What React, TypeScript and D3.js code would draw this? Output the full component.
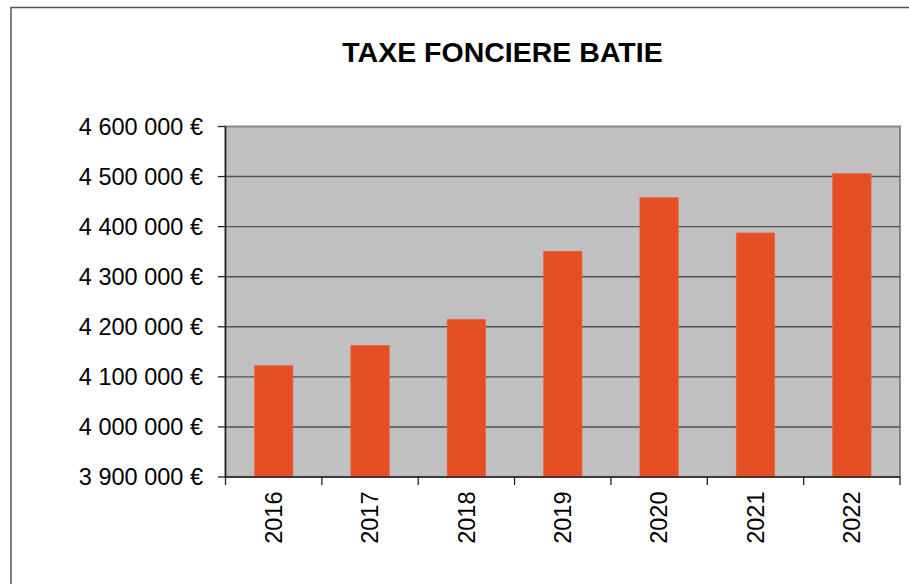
import * as d3 from "d3";

const years = ["2016", "2017", "2018", "2019", "2020", "2021", "2022"];
const amounts = [4122500, 4163000, 4215000, 4351000, 4458000, 4387500, 4506000];
const yTicks = [3900000, 4000000, 4100000, 4200000, 4300000, 4400000, 4500000, 4600000];

const width = 909;
const height = 584;
const plot = { left: 225.5, top: 126.5, right: 900, bottom: 477 };

const fmt = (v: number) =>
  String(v).replace(/\B(?=(\d{3})+(?!\d))/g, " ") + " €";

export default function App() {
  const x = d3
    .scaleBand()
    .domain(years)
    .range([plot.left, plot.right])
    .paddingInner(0.6)
    .paddingOuter(0.3);

  const y = d3
    .scaleLinear()
    .domain([3900000, 4600000])
    .range([plot.bottom, plot.top]);

  // category ticks sit on the band boundaries
  const step = (plot.right - plot.left) / years.length;
  const catTicks = d3.range(years.length + 1).map((i) => plot.left + i * step);

  return (
    <svg
      width={width}
      height={height}
      style={{ position: "absolute", left: 0, top: 0, display: "block" }}
      fontFamily="'Liberation Sans', Arial, sans-serif"
    >
      <rect width={width} height={height} fill="#fff" />
      {/* chart frame, runs off the page right and bottom */}
      <rect x={11} y={7.5} width={width + 20} height={height + 20} fill="none" stroke="#555" strokeWidth={1.5} />

      <text x={502.5} y={61.5} textAnchor="middle" fontSize={28.5} fontWeight="bold" fill="#000">
        TAXE FONCIERE BATIE
      </text>

      {/* plot area */}
      <rect
        x={plot.left}
        y={plot.top}
        width={plot.right - plot.left}
        height={plot.bottom - plot.top}
        fill="#c0c0c0"
        stroke="#888"
        strokeWidth={2}
      />

      {/* gridlines */}
      {yTicks.slice(1, -1).map((t) => (
        <line key={t} x1={plot.left} x2={plot.right} y1={y(t)} y2={y(t)} stroke="#505050" strokeWidth={1.4} />
      ))}

      {/* bars */}
      {years.map((yr, i) => (
        <rect
          key={yr}
          x={x(yr)!}
          y={y(amounts[i])}
          width={x.bandwidth()}
          height={plot.bottom - y(amounts[i])}
          fill="#e64e23"
          stroke="#ea6a48"
          strokeWidth={0.6}
        />
      ))}

      {/* axes */}
      <line x1={plot.left} x2={plot.left} y1={plot.top} y2={plot.bottom} stroke="#222" strokeWidth={1.5} />
      <line x1={plot.left} x2={plot.right} y1={plot.bottom} y2={plot.bottom} stroke="#222" strokeWidth={1.5} />

      {yTicks.map((t) => (
        <g key={t}>
          <line x1={218} x2={plot.left} y1={y(t)} y2={y(t)} stroke="#222" strokeWidth={1.3} />
          <text x={203} y={y(t)} dy="0.35em" textAnchor="end" fontSize={23.5} fill="#000">
            {fmt(t)}
          </text>
        </g>
      ))}

      {catTicks.map((cx, i) => (
        <line key={i} x1={cx} x2={cx} y1={plot.bottom} y2={485} stroke="#222" strokeWidth={1.3} />
      ))}

      {years.map((yr) => {
        const cx = x(yr)! + x.bandwidth() / 2;
        return (
          <text
            key={yr}
            transform={`translate(${cx},491.5) rotate(-90)`}
            dy="0.35em"
            textAnchor="end"
            fontSize={23.5}
            fill="#000"
          >
            {yr}
          </text>
        );
      })}
    </svg>
  );
}
